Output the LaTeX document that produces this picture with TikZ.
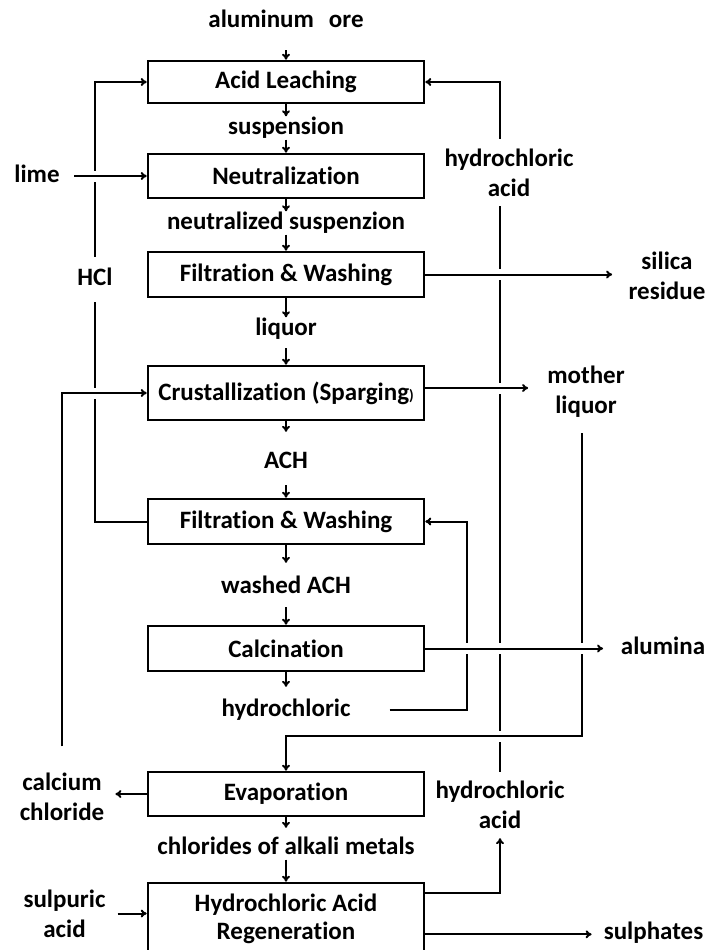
\documentclass[tikz,border=0pt]{standalone}
\usepackage{fontspec}
\setmainfont{Carlito}[Ligatures=NoCommon]
\usetikzlibrary{arrows.meta}
\newcommand{\tinyparen}{{\fontsize{15}{15}\selectfont)}}

\begin{document}
\begin{tikzpicture}[x=1pt,y=-1pt,
    >={To[length=6pt,width=8pt]},
    every node/.style={font=\fontsize{25}{30}\selectfont\bfseries},
    stage/.style={draw,line width=2.6pt,minimum width=276pt,inner sep=0pt,align=center},
    tag/.style={inner sep=0pt,text height=17.5pt,text depth=5.5pt},
    tags/.style={inner sep=0pt,align=center},
    flow/.style={line width=2pt},
    over/.style={preaction={draw=white,line width=11pt,arrows=-,shorten <=6pt,shorten >=6pt}}]
      \clip (0,0) rectangle (707,950);
      % process stages
      \node[stage,minimum height=42pt] (leach) at (286,82) {Acid Leaching};
      \node[stage,minimum height=44pt] (neut) at (286,176) {Neutralization};
      \node[stage,minimum height=45pt] (filt1) at (286,274.5) {Filtration \& Washing};
      \node[stage,minimum height=54pt] (crust) at (286,393) {Crustallization (Sparging\tinyparen};
      \node[stage,minimum height=45pt] (filt2) at (286,521.5) {Filtration \& Washing};
      \node[stage,minimum height=45pt] (calc) at (286,648.5) {Calcination};
      \node[stage,minimum height=44pt] (evap) at (286,794) {Evaporation};
      \node[stage,minimum height=72pt,font=\fontsize{25}{28}\selectfont\bfseries] (regen) at (286,919) {Hydrochloric Acid\\Regeneration};
      % streams
      \node[tag] (ore) at (286,22) {aluminum\hspace{15pt}ore};
      \node[tag] (susp) at (286,128) {suspension};
      \node[tag] (neusus) at (286,223) {neutralized suspenzion};
      \node[tag] (liquor) at (286,329) {liquor};
      \node[tag] (ach) at (286,462) {ACH};
      \node[tag] (washed) at (286,587) {washed ACH};
      \node[tag] (hydro) at (286,710) {hydrochloric};
      \node[tag] (chlor) at (286,848) {chlorides of alkali metals};
      \node[tag] (lime) at (37,176) {lime};
      \node[tag,minimum height=45pt] (hcl) at (95,279.5) {HCl};
      \node[tags,minimum height=67pt] (acidup) at (509,172.5) {hydrochloric\\acid};
      \node[tags] (silica) at (667,276) {silica\\residue};
      \node[tags] (mother) at (586,392) {mother\\liquor};
      \node[tag] (alumina) at (663,648) {alumina};
      \node[tags] (calcium) at (62,797) {calcium\\chloride};
      \node[tags,minimum height=66pt] (acidlo) at (500,805) {hydrochloric\\acid};
      \node[tags] (sulpuric) at (64.5,913.5) {sulpuric\\acid};
      \node[tag] (sulph) at (653.5,933) {sulphates};
      \coordinate (back) at (467,710);
      \coordinate (mix) at (582,736);
      % main line
      \begin{scope}[flow,->]
        \draw[shorten <=16.5pt] (ore) -- (leach);
        \draw (leach) -- (susp);
        \draw (susp) -- (neut);
        \draw (neut) -- (neusus);
        \draw (neusus) -- (filt1);
        \draw (filt1) -- (liquor);
        \draw[shorten <=7.5pt] (liquor) -- (crust);
        \draw[shorten >=18.5pt] (crust) -- (ach);
        \draw[shorten <=11.5pt] (ach) -- (filt2);
        \draw[shorten >=12.5pt] (filt2) -- (washed);
        \draw[shorten <=8.5pt] (washed) -- (calc);
        \draw[shorten >=11.5pt] (calc) -- (hydro);
        \draw[shorten >=8.5pt] (evap) -- (chlor);
        \draw (chlor) -- (regen);
      \end{scope}
      % recycles
      \draw[flow] (filt2.west) -| (hcl.south);
      \draw[flow,->] (hcl.north) |- (leach.west);
      \draw[flow,->] ([yshift=-11pt]regen.north east) -| (acidlo.south);
      \draw[flow] (acidlo.north) -- (acidlo.north |- acidup.south);
      \draw[flow,->] (acidlo.north |- acidup.north) |- (leach.east);
      \draw[flow,->,shorten <=39pt] (hydro.east) -- (back) |- (filt2.east);
      \draw[flow,->,over,shorten <=15.5pt] (mother.south -| mix) -- (mix) -| (evap.north);
      \draw[flow,->,over,shorten <=26.5pt] (calcium.north) |- (crust.west);
      % feeds and products
      \draw[flow,->,over,shorten <=14.5pt] (lime) -- (neut);
      \draw[flow,->,over,shorten >=16.3pt] (filt1) -- (filt1 -| silica.west);
      \draw[flow,->,over,shorten >=19pt] ([yshift=5pt]crust.east) -- ([yshift=5pt]crust.east -| mother.west);
      \draw[flow,->,over,shorten >=17.7pt] (calc) -- (calc -| alumina.west);
      \draw[flow,->,shorten >=11pt] (evap.west) -- (evap.west -| calcium.east);
      \draw[flow,->,shorten <=12pt] (sulpuric.east) -- (sulpuric.east -| regen.west);
      \draw[flow,->,shorten >=12pt] ([yshift=22pt]regen.south east) -- ([yshift=22pt]regen.south east -| sulph.west);
    \end{tikzpicture}
\end{document}
